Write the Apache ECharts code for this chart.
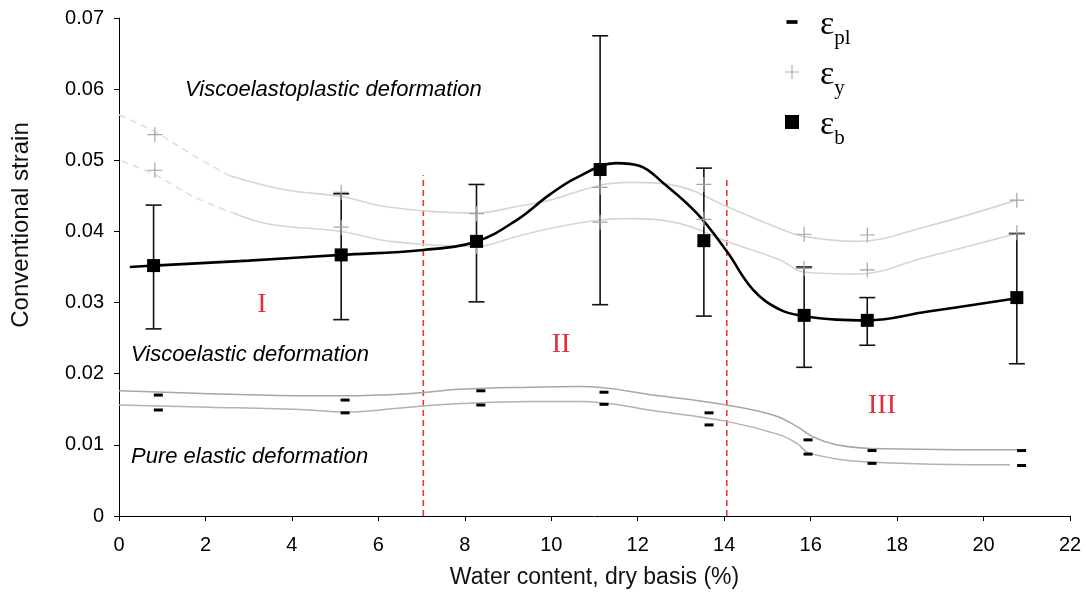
<!DOCTYPE html>
<html>
<head>
<meta charset="utf-8">
<script src="https://cdn.jsdelivr.net/npm/echarts@6/dist/echarts.min.js"></script>
<style>
html,body{margin:0;padding:0;background:#fff;}
#chart{width:1086px;height:596px;}
</style>
</head>
<body>
<div id="chart"></div>
<script>
// ---------- data ----------
var xTicks = [0, 22, 2];          // min, max, interval
var yTicks = [0, 0.07, 0.01];

// breaking strain eps_b : [x, mean]
var epsB = [[0.80,0.0352],[5.14,0.0367],[8.27,0.0386],[11.13,0.0487],[13.53,0.0387],[15.85,0.0282],[17.31,0.0275],[20.77,0.0307]];
// error bars of eps_b : [x, low, high]
var epsBErr = [[0.80,0.0263,0.0437],[5.14,0.0276,0.0453],[8.27,0.0301,0.0466],[11.13,0.0297,0.0675],[13.53,0.0281,0.0489],[15.85,0.0209,0.0350],[17.31,0.0240,0.0307],[20.77,0.0214,0.0397]];
// yield strain eps_y (two bounds per water content)
var epsY = [[0.83,0.0536],[0.83,0.0486],[5.14,0.0455],[5.14,0.0406],[8.27,0.0425],[8.27,0.0379],[11.13,0.0462],[11.13,0.0413],[13.53,0.0466],[13.53,0.0417],[15.85,0.0396],[15.85,0.0348],[17.31,0.0395],[17.31,0.0346],[20.77,0.0444],[20.77,0.0398]];
// proportional limit strain eps_pl (two bounds per water content)
var epsPl = [[0.91,0.0170],[0.91,0.0149],[5.23,0.0163],[5.23,0.0145],[8.37,0.0176],[8.37,0.0156],[11.22,0.0174],[11.22,0.0157],[13.65,0.0145],[13.65,0.0128],[15.94,0.0107],[15.94,0.0087],[17.42,0.0092],[17.42,0.0074],[20.88,0.0092],[20.88,0.0071]];

// trend curves
var curveB = [[0.25,0.0350],[0.80,0.0352],[3.0,0.0359],[5.14,0.0367],[7.04,0.0374],[8.27,0.0386],[9.2,0.0416],[9.97,0.0452],[10.6,0.0476],[11.5,0.0496],[12.05,0.0492],[12.59,0.0468],[13.36,0.0426],[14.06,0.0372],[14.67,0.0318],[15.29,0.0290],[15.85,0.0281],[16.6,0.0276],[17.31,0.0275],[18.68,0.0287],[20.77,0.0306]];
var curveYUpDash = [[0,0.0564],[0.83,0.0540],[1.72,0.0507],[2.53,0.0479]];
var curveYUp = [[2.53,0.0479],[3.8,0.0459],[5.14,0.0449],[6.27,0.0434],[8.27,0.0426],[9.2,0.0435],[9.97,0.0444],[11.13,0.0465],[11.82,0.0469],[12.98,0.0463],[14.06,0.0435],[15.29,0.0404],[15.85,0.0393],[17.06,0.0386],[18.68,0.0407],[20.77,0.0444]];
var curveYLoDash = [[0.06,0.0499],[0.85,0.0479],[1.72,0.0449],[2.64,0.0426]];
var curveYLo = [[2.64,0.0426],[3.49,0.0410],[5.14,0.0400],[6.27,0.0386],[8.27,0.0379],[9.2,0.0393],[9.97,0.0404],[11.13,0.0416],[11.82,0.0418],[12.98,0.0411],[14.06,0.0386],[15.29,0.0360],[15.85,0.0343],[17.06,0.0340],[18.68,0.0364],[20.77,0.0397]];
var curvePlUp = [[0,0.0176],[2.1,0.0172],[4.4,0.0169],[5.2,0.0169],[6.7,0.0172],[7.9,0.0178],[9.5,0.0181],[10.66,0.0182],[12.5,0.0169],[14.06,0.0156],[15.13,0.0142],[15.68,0.0126],[16.06,0.0111],[16.6,0.0100],[17.37,0.0095],[20.84,0.0093]];
var curvePlLo = [[0,0.0156],[2.1,0.0153],[4.4,0.0149],[5.2,0.0146],[6.7,0.0153],[7.9,0.0158],[9.5,0.0161],[10.66,0.0161],[12.5,0.0147],[14.06,0.0133],[15.29,0.0114],[15.68,0.0102],[15.98,0.0088],[17.37,0.0076],[20.61,0.0072]];

// region dividers
var divider1 = [[7.04,0],[7.04,0.0479]];
var divider2 = [[14.06,0],[14.06,0.0477]];

var legendNames = ['εpl','εy','εb'];
var legendSubs = {'εpl':'pl','εy':'y','εb':'b'};
var regionLabels = ['I','II','III'];
var zoneLabels = ['Viscoelastoplastic deformation','Viscoelastic deformation','Pure elastic deformation'];

// ---------- chart ----------
var PLUS = 'path://M0,9.2H9.2V0H10.8V9.2H20V10.8H10.8V20H9.2V10.8H0Z';
var DASH = 'path://M-4,-14M34,24M0,0H30V10H0Z';
var chart = echarts.init(document.getElementById('chart'));

function curve(name, data, color, width, dashed) {
  return {
    name: name, type: 'line', data: data, smooth: 0.4, showSymbol: false, symbol: 'none',
    silent: true, z: 2,
    lineStyle: {color: color, width: width, type: dashed ? [7,5] : 'solid'}
  };
}
function divider(data) {
  return {
    type: 'line', data: data, showSymbol: false, symbol: 'none', silent: true, z: 1,
    lineStyle: {color: '#e8333c', width: 1.6, type: [6,4]}
  };
}

var option = {
  backgroundColor: '#fff',
  animation: false,
  grid: {left: 119, right: 16, top: 18, bottom: 80},
  xAxis: {
    type: 'value', min: xTicks[0], max: xTicks[1], interval: xTicks[2],
    name: 'Water content, dry basis (%)', nameLocation: 'middle', nameGap: 50,
    nameTextStyle: {fontFamily: 'Liberation Sans', fontSize: 23, color: '#111'},
    axisLine: {lineStyle: {color: '#000', width: 1}},
    axisTick: {show: true, inside: false, length: 5, lineStyle: {color: '#000'}},
    axisLabel: {fontFamily: 'Liberation Sans', fontSize: 20, color: '#000', margin: 19},
    splitLine: {show: false}
  },
  yAxis: {
    type: 'value', min: yTicks[0], max: yTicks[1], interval: yTicks[2],
    name: 'Conventional strain', nameLocation: 'middle', nameGap: 86,
    nameTextStyle: {fontFamily: 'Liberation Sans', fontSize: 24, color: '#111', padding: [0,0,0,84]},
    axisLine: {show: true, lineStyle: {color: '#000', width: 1}},
    axisTick: {show: true, inside: false, length: 5, lineStyle: {color: '#000'}},
    axisLabel: {fontFamily: 'Liberation Sans', fontSize: 20, color: '#000', margin: 15,
      formatter: function (v) { return v === 0 ? '0' : v.toFixed(2); }},
    splitLine: {show: false}
  },
  legend: {
    orient: 'vertical', left: 780, top: 3, itemGap: 9, itemWidth: 14, itemHeight: 14,
    selectedMode: false,
    data: [
      {name: legendNames[0], icon: DASH, itemStyle: {color: '#000', opacity: 1}},
      {name: legendNames[1], icon: PLUS, itemStyle: {color: '#a8a8a8', opacity: 1}},
      {name: legendNames[2], icon: 'rect', itemStyle: {color: '#000', opacity: 1}}
    ],
    formatter: function (name) { return '{e|ε}{s|' + legendSubs[name] + '}'; },
    textStyle: {
      padding: [0,0,0,16],
      rich: {
        e: {fontFamily: 'Liberation Serif', fontSize: 34, color: '#000', verticalAlign: 'bottom', lineHeight: 40},
        s: {fontFamily: 'Liberation Serif', fontSize: 21, color: '#000', verticalAlign: 'bottom', lineHeight: 26, padding: [0,0,-7,0]}
      }
    }
  },
  graphic: [
    {type: 'text', left: 185, top: 79, style: {text: zoneLabels[0], font: 'italic 22px "Liberation Sans"', fill: '#000'}},
    {type: 'text', left: 131, top: 344, style: {text: zoneLabels[1], font: 'italic 22px "Liberation Sans"', fill: '#000'}},
    {type: 'text', left: 131, top: 446, style: {text: zoneLabels[2], font: 'italic 22px "Liberation Sans"', fill: '#000'}},
    {type: 'text', x: 262, y: 305, style: {text: regionLabels[0], font: '28px "Liberation Serif"', fill: '#e0303a', align: 'center', verticalAlign: 'middle'}},
    {type: 'text', x: 561, y: 345, style: {text: regionLabels[1], font: '28px "Liberation Serif"', fill: '#e0303a', align: 'center', verticalAlign: 'middle'}},
    {type: 'text', x: 882, y: 406, style: {text: regionLabels[2], font: '28px "Liberation Serif"', fill: '#e0303a', align: 'center', verticalAlign: 'middle'}}
  ],
  series: [
    divider(divider1),
    divider(divider2),
    curve('yUpDash', curveYUpDash, '#dcdcdc', 1.4, true),
    curve('yLoDash', curveYLoDash, '#dcdcdc', 1.4, true),
    curve('yUp', curveYUp, '#d8d5d2', 1.6, false),
    curve('yLo', curveYLo, '#d8d5d2', 1.6, false),
    curve('plUp', curvePlUp, '#a9a6a4', 1.5, false),
    curve('plLo', curvePlLo, '#b4b1af', 1.5, false),
    {
      name: 'errB', type: 'custom', data: epsBErr, z: 3, silent: true,
      encode: {x: 0, y: [1, 2]},
      renderItem: function (params, api) {
        var x = api.value(0);
        var lo = api.coord([x, api.value(1)]);
        var hi = api.coord([x, api.value(2)]);
        var w = 8;
        var st = {stroke: '#111', lineWidth: 1.6};
        return {type: 'group', children: [
          {type: 'line', shape: {x1: lo[0], y1: lo[1], x2: hi[0], y2: hi[1]}, style: st},
          {type: 'line', shape: {x1: lo[0]-w, y1: lo[1], x2: lo[0]+w, y2: lo[1]}, style: st},
          {type: 'line', shape: {x1: hi[0]-w, y1: hi[1], x2: hi[0]+w, y2: hi[1]}, style: st}
        ]};
      }
    },
    curve('bCurve', curveB, '#000', 2.6, false),
    {name: legendNames[1], type: 'scatter', data: epsY, symbol: PLUS, symbolSize: 15, z: 4,
      itemStyle: {color: '#a4a4a4', opacity: 1}},
    {name: legendNames[0], type: 'scatter', data: epsPl, symbol: 'rect', symbolSize: [9, 3], z: 4,
      itemStyle: {color: '#000', opacity: 1}},
    {name: legendNames[2], type: 'scatter', data: epsB, symbol: 'rect', symbolSize: 13, z: 5,
      itemStyle: {color: '#000', opacity: 1}}
  ]
};
chart.setOption(option);
</script>
</body>
</html>
